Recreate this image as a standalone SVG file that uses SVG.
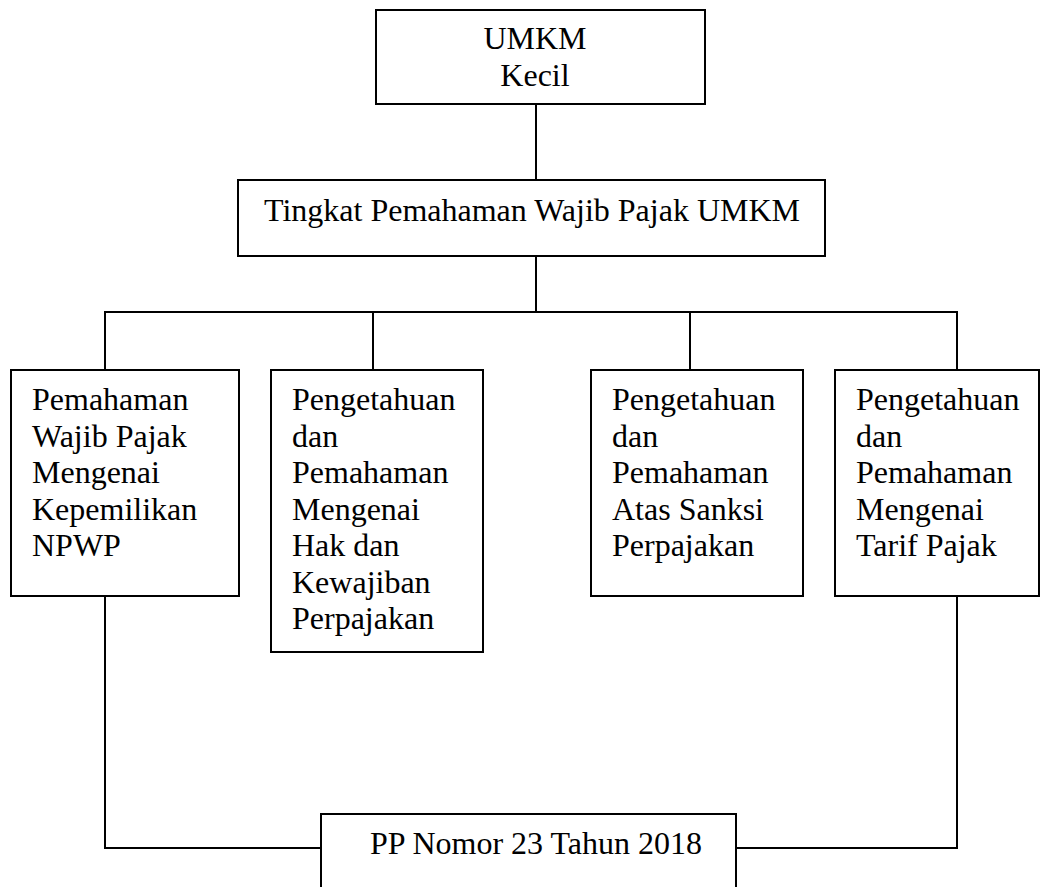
<svg xmlns="http://www.w3.org/2000/svg" width="1041" height="887" viewBox="0 0 1041 887">
<style>
rect{fill:#fff;stroke:#000;stroke-width:2}
line,polyline{fill:none;stroke:#000;stroke-width:2}
text{font-family:"Liberation Serif","Times New Roman",serif;font-size:32px;fill:#000}
.c{text-anchor:middle}
</style>
<rect x="0" y="0" width="1041" height="887" style="stroke:none"/>
<g id="connectors">
<line x1="536" y1="104" x2="536" y2="180"/>
<line x1="536" y1="256" x2="536" y2="312"/>
<line x1="104" y1="312" x2="958" y2="312"/>
<line x1="105" y1="312" x2="105" y2="370"/>
<line x1="373" y1="312" x2="373" y2="370"/>
<line x1="690" y1="312" x2="690" y2="370"/>
<line x1="957" y1="312" x2="957" y2="370"/>
<polyline points="105,596 105,848 321,848"/>
<polyline points="957,596 957,848 736,848"/>
</g>
<g id="umkm">
<rect x="376" y="10" width="329" height="94"/>
<text class="c" x="535" y="49">UMKM</text>
<text class="c" x="535" y="86">Kecil</text>
</g>
<g id="tingkat">
<rect x="238" y="180" width="587" height="76"/>
<text class="c" x="532" y="221">Tingkat Pemahaman Wajib Pajak UMKM</text>
</g>
<g id="npwp">
<rect x="11" y="370" width="228" height="226"/>
<text x="32" y="410">Pemahaman</text>
<text x="32" y="446.5">Wajib Pajak</text>
<text x="32" y="483">Mengenai</text>
<text x="32" y="519.5">Kepemilikan</text>
<text x="32" y="556">NPWP</text>
</g>
<g id="hak">
<rect x="271" y="370" width="212" height="282"/>
<text x="292" y="410">Pengetahuan</text>
<text x="292" y="446.5">dan</text>
<text x="292" y="483">Pemahaman</text>
<text x="292" y="519.5">Mengenai</text>
<text x="292" y="556">Hak dan</text>
<text x="292" y="592.5">Kewajiban</text>
<text x="292" y="629">Perpajakan</text>
</g>
<g id="sanksi">
<rect x="591" y="370" width="212" height="226"/>
<text x="612" y="410">Pengetahuan</text>
<text x="612" y="446.5">dan</text>
<text x="612" y="483">Pemahaman</text>
<text x="612" y="519.5">Atas Sanksi</text>
<text x="612" y="556">Perpajakan</text>
</g>
<g id="tarif">
<rect x="835" y="370" width="204" height="226"/>
<text x="856" y="410">Pengetahuan</text>
<text x="856" y="446.5">dan</text>
<text x="856" y="483">Pemahaman</text>
<text x="856" y="519.5">Mengenai</text>
<text x="856" y="556">Tarif Pajak</text>
</g>
<g id="pp">
<rect x="321" y="814" width="415" height="80"/>
<text class="c" x="536" y="854">PP Nomor 23 Tahun 2018</text>
</g>
</svg>
